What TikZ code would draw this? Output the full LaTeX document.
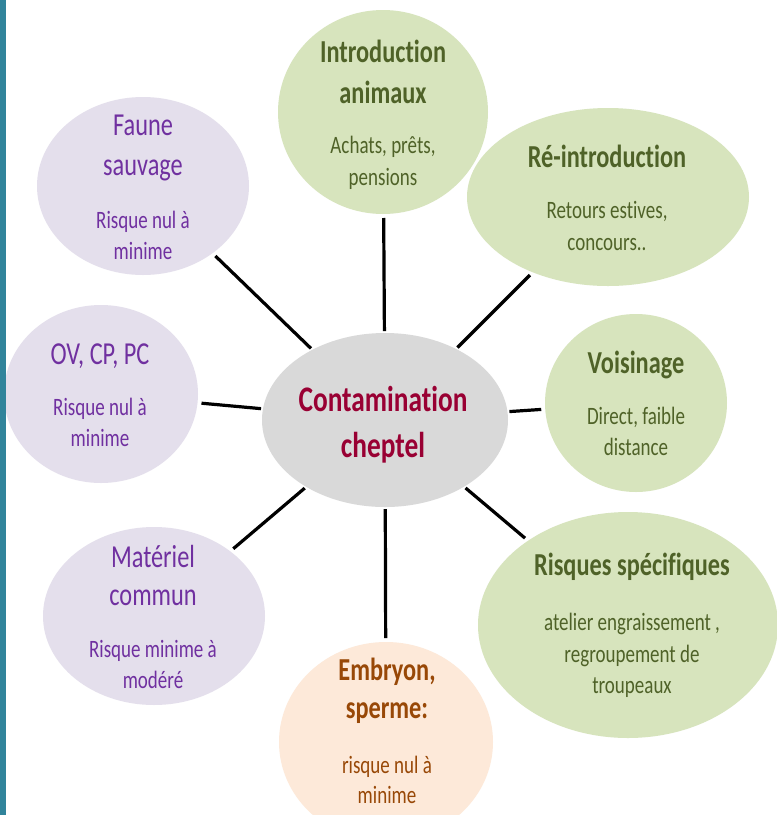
\documentclass[tikz,border=0pt]{standalone}
\usepackage{fontspec}
\setmainfont{Carlito}[FakeStretch=0.76,Ligatures=NoCommon]
\usetikzlibrary{shapes.geometric}
\definecolor{gfill}{HTML}{D7E4BD}
\definecolor{lfill}{HTML}{E4DFEC}
\definecolor{pfill}{HTML}{FDE9D9}
\definecolor{cfill}{HTML}{D9D9D9}
\definecolor{tealbar}{HTML}{31849B}
\definecolor{gtext}{HTML}{4F6228}
\definecolor{ptext}{HTML}{7030A0}
\definecolor{btext}{HTML}{984807}
\definecolor{ctext}{HTML}{990033}
\begin{document}
\begin{tikzpicture}[x=1pt,y=-1pt,
  bub/.style={ellipse,draw=none,inner sep=0,outer sep=0},
  gbub/.style={bub,fill=gfill},
  lbub/.style={bub,fill=lfill},
  txt/.style={anchor=base,inner sep=0,outer sep=0},
  gtitle/.style={txt,text=gtext,font=\bfseries\fontsize{32}{38}\selectfont},
  gsub/.style={txt,text=gtext,font=\fontsize{25}{30}\selectfont},
  ltitle/.style={txt,text=ptext,font=\fontsize{32}{38}\selectfont},
  lsub/.style={txt,text=ptext,font=\fontsize{25}{30}\selectfont},
  btitle/.style={txt,text=btext,font=\bfseries\fontsize{32}{38}\selectfont},
  bsub/.style={txt,text=btext,font=\fontsize{25}{30}\selectfont},
  link/.style={line width=3.2pt,black,shorten <=2pt,shorten >=4pt}]
\clip (0,0) rectangle (777,815);
\fill[white] (0,0) rectangle (777,815);
% bubbles
\node[lbub,minimum width=212,minimum height=178] (fa) at (143,186) {};
\node[gbub,minimum width=210,minimum height=204] (in) at (383,112) {};
\node[gbub,minimum width=282,minimum height=178] (re) at (608,197) {};
\node[lbub,minimum width=194,minimum height=178] (ov) at (101,394) {};
\node[lbub,minimum width=222,minimum height=178] (ma) at (154,616) {};
\node[bub,fill=cfill,minimum width=246,minimum height=174] (ce) at (385,420) {};
\node[gbub,minimum width=182,minimum height=178] (vo) at (636,403) {};
\node[gbub,minimum width=300,minimum height=226] (ri) at (628,625) {};
\node[bub,fill=pfill,minimum width=214,minimum height=200] (em) at (386,742) {};
% connectors
\foreach \n in {fa,in,re,ov,ma,vo,ri,em}
  \draw[link] (ce) -- (\n);
% texts
\node[ltitle] (fa1) at (143,135) {Faune};
\node[ltitle] (fa2) at (143,175) {sauvage};
\node[lsub] (fa3) at (143,228) {Risque nul à};
\node[lsub] (fa4) at (143,259) {minime};
\node[gtitle] (in1) at (383,62) {Introduction};
\node[gtitle] (in2) at (383,103) {animaux};
\node[gsub] (in3) at (383,153) {Achats, prêts,};
\node[gsub] (in4) at (383,185) {pensions};
\node[gtitle] (re1) at (607,167) {Ré-introduction};
\node[gsub] (re2) at (607,218) {Retours estives,};
\node[gsub] (re3) at (607,250) {concours..};
\node[ltitle] (ov1) at (100,364) {OV, CP, PC};
\node[lsub] (ov2) at (100,415) {Risque nul à};
\node[lsub] (ov3) at (100,446) {minime};
\node[ltitle] (ma1) at (153,567) {Matériel};
\node[ltitle] (ma2) at (153,605) {commun};
\node[lsub] (ma3) at (153,657) {Risque minime à};
\node[lsub] (ma4) at (153,688) {modéré};
\node[txt,text=ctext,font=\bfseries\fontsize{36}{44}\selectfont] (ce1) at (383,411) {Contamination};
\node[txt,text=ctext,font=\bfseries\fontsize{36}{44}\selectfont] (ce2) at (383,457) {cheptel};
\node[gtitle] (vo1) at (636,373) {Voisinage};
\node[gsub] (vo2) at (636,424) {Direct, faible};
\node[gsub] (vo3) at (636,455) {distance};
\node[gtitle] (ri1) at (632,575) {Risques spécifiques};
\node[gsub] (ri2) at (632,630) {atelier engraissement ,};
\node[gsub] (ri3) at (632,662) {regroupement de};
\node[gsub] (ri4) at (632,693) {troupeaux};
\node[btitle] (em1) at (387,680) {Embryon,};
\node[btitle] (em2) at (387,718) {sperme:};
\node[bsub] (em3) at (387,773) {risque nul à};
\node[bsub] (em4) at (387,803) {minime};
% left bar
\fill[tealbar] (0,0) rectangle (6,815);
\end{tikzpicture}
\end{document}
